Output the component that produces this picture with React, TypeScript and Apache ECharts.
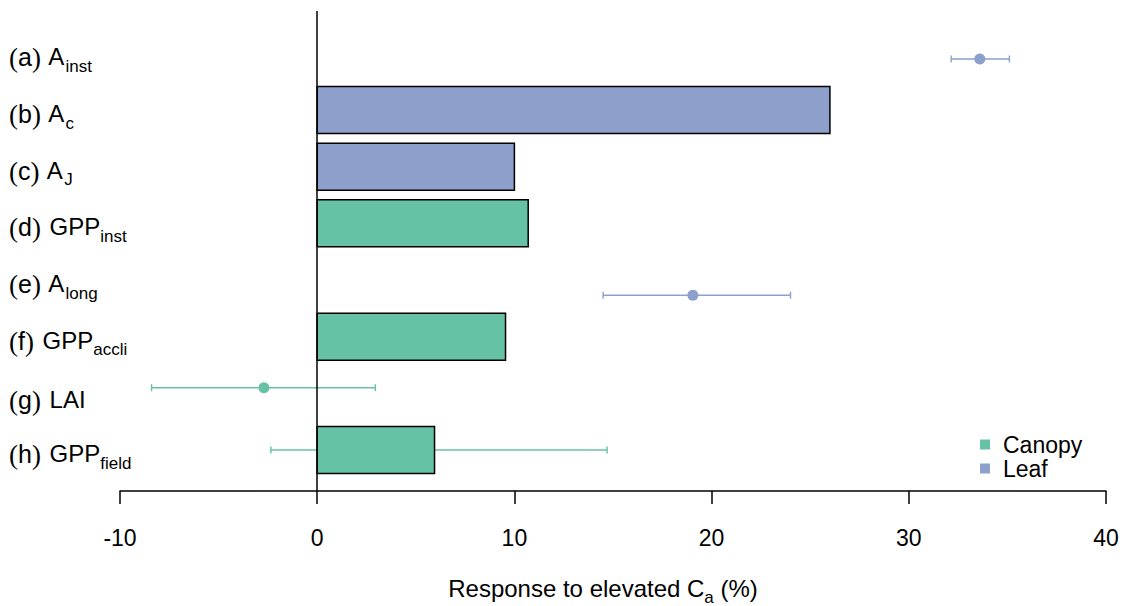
import React, { useEffect, useRef } from "react";
import * as echarts from "echarts";

// Rows, top to bottom
const rowLetters = ["a", "b", "c", "d", "e", "f", "g", "h"];
const rowNames = ["A", "A", "A", "GPP", "A", "GPP", "LAI", "GPP"];
const rowSubscripts = ["inst", "c", "J", "inst", "long", "accli", "", "field"];
const rowGroups = ["Leaf", "Leaf", "Leaf", "Canopy", "Leaf", "Canopy", "Canopy", "Canopy"];

// Response to elevated Ca (%)
const barValues = [null, 26.0, 10.0, 10.7, null, 9.55, null, 5.95];
const pointValues = [33.6, null, null, null, 19.05, null, -2.7, null];
const errorLow = [32.15, null, null, null, 14.5, null, -8.4, -2.35];
const errorHigh = [35.1, null, null, null, 24.0, null, 2.95, 14.7];
// row coordinate at which each point / whisker sits
const markerRows = [0.1, 1, 2, 3, 4.27, 5, 5.9, 7];

const xTicks = [-10, 0, 10, 20, 30, 40];
const groups = ["Canopy", "Leaf"];
const groupColors: Record<string, string> = { Canopy: "#66C2A5", Leaf: "#8DA0CB" };

const SANS = "'Liberation Sans', Arial, sans-serif";
const SERIF = "'Liberation Serif', 'Times New Roman', serif";

const toNum = (v: number | null) => (v == null ? "-" : v);

function makeSeries(group: string) {
  const color = groupColors[group];
  const data = rowLetters
    .map((_, i) => i)
    .filter((i) => rowGroups[i] === group)
    .map((i) => [i, toNum(barValues[i]), toNum(pointValues[i]), toNum(errorLow[i]), toNum(errorHigh[i]), markerRows[i]]);
  return {
    type: "custom",
    name: group,
    itemStyle: { color },
    clip: false,
    encode: { x: [1, 2, 3, 4], y: [0, 5] },
    data,
    renderItem: (_params: any, api: any) => {
      const row = api.value(0);
      const bar = api.value(1);
      const point = api.value(2);
      const low = api.value(3);
      const high = api.value(4);
      const mRow = api.value(5);
      const children: any[] = [];
      if (!isNaN(low) && !isNaN(high)) {
        const p1 = api.coord([low, mRow]);
        const p2 = api.coord([high, mRow]);
        const cap = 3.5;
        const ls = { stroke: color, lineWidth: 1.4 };
        children.push({ type: "line", shape: { x1: p1[0], y1: p1[1], x2: p2[0], y2: p2[1] }, style: ls });
        children.push({ type: "line", shape: { x1: p1[0], y1: p1[1] - cap, x2: p1[0], y2: p1[1] + cap }, style: ls });
        children.push({ type: "line", shape: { x1: p2[0], y1: p2[1] - cap, x2: p2[0], y2: p2[1] + cap }, style: ls });
      }
      if (!isNaN(bar)) {
        const a = api.coord([0, row]);
        const b = api.coord([bar, row]);
        const h = api.size([0, 0.83])[1];
        children.push({
          type: "rect",
          shape: { x: a[0], y: a[1] - h / 2, width: b[0] - a[0], height: h },
          style: { fill: color, stroke: "#000", lineWidth: 1.5 },
        });
      }
      if (!isNaN(point)) {
        const c = api.coord([point, mRow]);
        children.push({ type: "circle", shape: { cx: c[0], cy: c[1], r: 5.5 }, style: { fill: color } });
      }
      return { type: "group", children };
    },
  };
}

export default function App() {
  const ref = useRef<HTMLDivElement>(null);

  useEffect(() => {
    document.body.style.margin = "0";
    if (!ref.current) return;
    const chart = echarts.init(ref.current, undefined, { renderer: "svg" });

    const series: any[] = groups.map(makeSeries);
    series[0].markLine = {
      silent: true,
      symbol: "none",
      label: { show: false },
      lineStyle: { color: "#000", width: 1.5, type: "solid" },
      data: [{ xAxis: 0 }],
    };

    chart.setOption({
      animation: false,
      backgroundColor: "#fff",
      textStyle: { fontFamily: SANS },
      grid: { left: 120, right: 21, top: 11, bottom: 115, outerBoundsMode: "none", containLabel: false },
      legend: {
        data: groups,
        orient: "vertical",
        left: 975,
        top: 428,
        icon: "rect",
        itemWidth: 10,
        itemHeight: 10,
        itemGap: 1,
        textStyle: { fontSize: 23, lineHeight: 23, color: "#000", fontFamily: SANS, padding: [0, 0, 0, 8] },
      },
      xAxis: {
        type: "value",
        min: xTicks[0],
        max: xTicks[xTicks.length - 1],
        interval: 10,
        axisLine: { onZero: false, lineStyle: { color: "#000", width: 1.5 } },
        axisTick: { length: 13, lineStyle: { color: "#000", width: 1.5 } },
        splitLine: { show: false },
        axisLabel: { fontSize: 23, color: "#000", margin: 35, fontFamily: SANS },
        name: "{m|Response to elevated C}{sub|a}{m| (%)}",
        nameLocation: "middle",
        nameGap: 85,
        nameTextStyle: {
          fontSize: 24,
          color: "#000",
          fontFamily: SANS,
          padding: [0, 20, 0, 0],
          rich: {
            m: { fontSize: 24, lineHeight: 24, verticalAlign: "top", color: "#000", fontFamily: SANS },
            sub: { fontSize: 17, lineHeight: 30, verticalAlign: "bottom", color: "#000", fontFamily: SANS },
          },
        },
      },
      yAxis: {
        type: "value",
        inverse: true,
        min: -0.747,
        max: 7.723,
        axisLine: { show: false },
        axisTick: { show: false },
        splitLine: { show: false },
        axisLabel: {
          customValues: rowLetters.map((_, i) => i),
          align: "left",
          margin: 111,
          padding: [13, 0, 0, 0],
          formatter: (v: number) => {
            const i = Math.round(v);
            const sub = rowSubscripts[i] ? `{s|${rowSubscripts[i]}}` : "";
            return `{p|(}{l|${rowLetters[i]}}{q|)}{m| ${rowNames[i]}}${sub}`;
          },
          rich: {
            p: { fontSize: 27, fontFamily: SERIF, color: "#000", lineHeight: 24, verticalAlign: "top" },
            q: { fontSize: 27, fontFamily: SERIF, color: "#000", lineHeight: 24, verticalAlign: "top", padding: [0, 2, 0, 0] },
            l: { fontSize: 25, fontFamily: SANS, color: "#000", lineHeight: 24, verticalAlign: "top" },
            m: { fontSize: 24, fontFamily: SANS, color: "#000", lineHeight: 24, verticalAlign: "top" },
            s: { fontSize: 17, fontFamily: SANS, color: "#000", lineHeight: 30, verticalAlign: "bottom" },
          },
        },
      },
      series,
    });

    return () => chart.dispose();
  }, []);

  return <div ref={ref} style={{ width: 1127, height: 606 }} />;
}
